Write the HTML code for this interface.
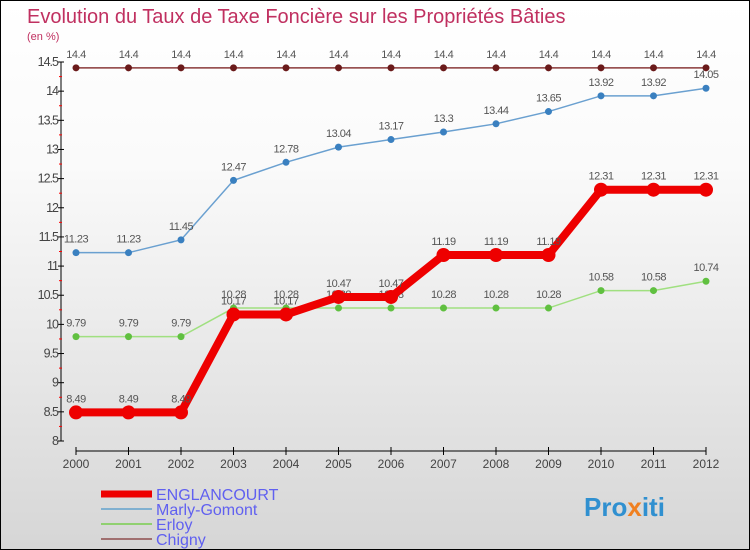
<!DOCTYPE html>
<html><head><meta charset="utf-8"><style>
body{margin:0}
#c{width:750px;height:550px;position:relative;overflow:hidden;box-sizing:border-box;border:1px solid #000;background:linear-gradient(#fff,#fafafa 30%,#d6d6d6);font-family:"Liberation Sans",sans-serif}
</style></head><body>
<div id="c">
<svg width="750" height="550" style="position:absolute;left:0;top:0" id="svg">
<text x="26" y="22" font-size="20" fill="#c03060">Evolution du Taux de Taxe Foncière sur les Propriétés Bâties</text>
<text x="26" y="39" font-size="11" fill="#c03060">(en %)</text>
<g id="axes"></g><g id="series"></g>
<g>
<line x1="100" y1="493" x2="151" y2="493" stroke="#e00" stroke-width="7"/>
<text x="155" y="499" font-size="16" fill="#6060f0">ENGLANCOURT</text>
<line x1="100" y1="508" x2="151" y2="508" stroke="#80b0d0" stroke-width="2"/>
<text x="155" y="514" font-size="16" fill="#6060f0">Marly-Gomont</text>
<line x1="100" y1="523" x2="151" y2="523" stroke="#90d070" stroke-width="2"/>
<text x="155" y="529" font-size="16" fill="#6060f0">Erloy</text>
<line x1="100" y1="538" x2="151" y2="538" stroke="#a07070" stroke-width="2"/>
<text x="155" y="544" font-size="16" fill="#6060f0">Chigny</text>
</g>
<text x="583" y="515" font-size="26" font-weight="bold" fill="#3090d0">Pro<tspan fill="#f08020">x</tspan>iti</text>
</svg>
</div>
<script>
const years=[2000,2001,2002,2003,2004,2005,2006,2007,2008,2009,2010,2011,2012];
const englancourt=[8.49,8.49,8.49,10.17,10.17,10.47,10.47,11.19,11.19,11.19,12.31,12.31,12.31];
const marly=[11.23,11.23,11.45,12.47,12.78,13.04,13.17,13.3,13.44,13.65,13.92,13.92,14.05];
const erloy=[9.79,9.79,9.79,10.28,10.28,10.28,10.28,10.28,10.28,10.28,10.58,10.58,10.74];
const chigny=[14.4,14.4,14.4,14.4,14.4,14.4,14.4,14.4,14.4,14.4,14.4,14.4,14.4];
const yTicks=[8,8.5,9,9.5,10,10.5,11,11.5,12,12.5,13,13.5,14,14.5];
const NS="http://www.w3.org/2000/svg";
const X=i=>75+i*52.5;
const Y=v=>440-(v-8)*(379/6.5);
function mk(t,a,p){const e=document.createElementNS(NS,t);for(const k in a)e.setAttribute(k,a[k]);p.appendChild(e);return e;}
const ax=document.getElementById('axes'),sr=document.getElementById('series');
let l=mk('line',{x1:60,y1:Y(14.5),x2:60,y2:440,stroke:'#000'},ax);


yTicks.forEach((v,k)=>{
  mk('line',{x1:57,y1:Y(v),x2:63,y2:Y(v),stroke:'#000'},ax);
  if(k<yTicks.length-1) mk('line',{x1:58,y1:Y(v+0.25),x2:61,y2:Y(v+0.25),stroke:'#f00'},ax);
  const t=mk('text',{x:57,y:Y(v)+4,'font-size':12.5,'text-anchor':'end',fill:'#444','letter-spacing':'-1'},ax);
  t.textContent=String(v);
  
  
});
let xa=mk('line',{x1:X(0),y1:450,x2:X(12),y2:450,stroke:'#000'},ax);


years.forEach((yr,i)=>{
  mk('line',{x1:X(i),y1:446,x2:X(i),y2:454,stroke:'#000'},ax);
  const t=mk('text',{x:X(i),y:467,'font-size':12,'text-anchor':'middle',fill:'#444'},ax);
  t.textContent=yr;
  
  
});
function series(vals,color,w,r,name,dot){
  const g=mk('g',{},sr);
  
  
  mk('polyline',{points:vals.map((v,i)=>X(i)+','+Y(v)).join(' '),fill:'none',stroke:color,'stroke-width':w},g);
  vals.forEach((v,i)=>{
    const c=mk('circle',{cx:X(i),cy:Y(v),r:r,fill:dot},g);
    
    
    const t=mk('text',{x:X(i),y:Y(v)-10,'font-size':11,'text-anchor':'middle',fill:'#555','letter-spacing':'-0.5'},g);
    t.textContent=String(v);
    
    
  });
}
series(chigny,'#8a3a3a',1.5,3.5,'chigny','#6a1a1a');
series(marly,'#6aa0d0',1.5,3.5,'marly','#3a80c0');
series(erloy,'#a0e080',1.5,3.5,'erloy','#60c040');
series(englancourt,'#ee0000',8,7,'englancourt','#ee0000');
</script>
</body></html>
